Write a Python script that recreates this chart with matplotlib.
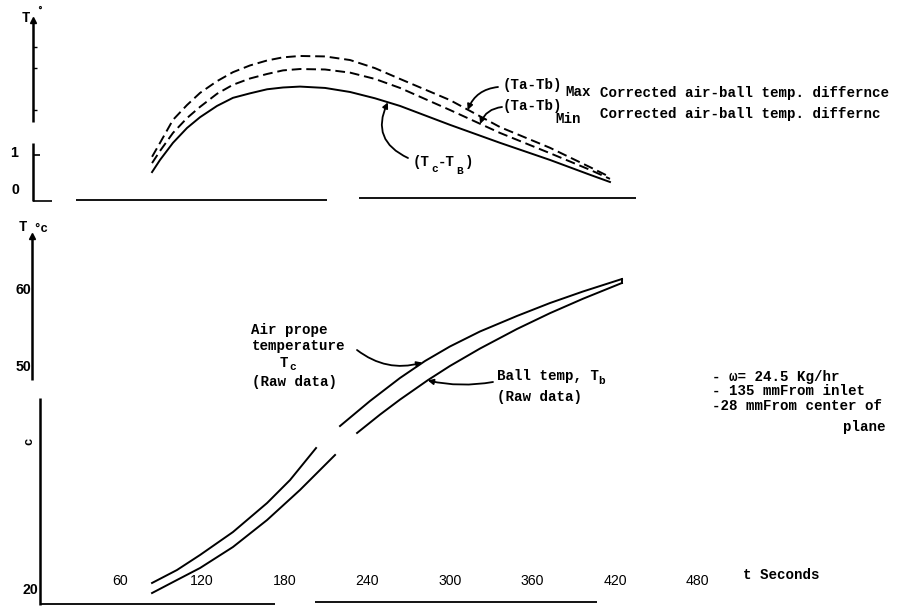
import matplotlib
matplotlib.use("Agg")
import matplotlib.pyplot as plt
from matplotlib.lines import Line2D

# ---------------- data ----------------
# upper panel: corrected / raw air-ball temperature difference (deg C) vs time (s)
time_diff = [83.6, 89.4, 98.8, 109.0, 118.5, 130.8, 142.4, 154.8, 167.2, 178.8,
             191.1, 209.3, 227.5, 245.6, 263.8, 300.1, 336.5, 372.8, 401.9, 416.4]
diff_raw = [0.62, 0.89, 1.27, 1.60, 1.84, 2.09, 2.27, 2.37, 2.46, 2.50,
            2.52, 2.49, 2.40, 2.26, 2.09, 1.67, 1.27, 0.89, 0.56, 0.40]
diff_min = [0.82, 1.09, 1.49, 1.82, 2.07, 2.36, 2.56, 2.70, 2.80, 2.88,
            2.91, 2.90, 2.83, 2.69, 2.49, 2.00, 1.49, 1.04, 0.67, 0.47]
diff_max = [0.96, 1.27, 1.78, 2.11, 2.38, 2.64, 2.84, 2.99, 3.10, 3.17,
            3.20, 3.19, 3.11, 2.93, 2.69, 2.22, 1.62, 1.16, 0.73, 0.51]

# lower panel: raw air-probe and ball temperatures (deg C) vs time (s)
time_air = [83.6, 101.7, 118.5, 142.4, 167.2, 183.9, 202.8,
            220.2, 242.0, 263.8, 282.0, 300.1, 321.9, 348.8, 372.8, 396.8, 425.1]
temp_air = [22.44, 24.10, 26.03, 28.97, 32.69, 35.64, 39.74,
            42.56, 45.77, 48.72, 50.90, 52.76, 54.68, 56.67, 58.33, 59.81, 61.41]
time_ball = [83.6, 101.7, 118.5, 142.4, 167.2, 191.1, 216.6,
             232.6, 249.3, 263.8, 284.2, 300.1, 321.9, 348.8, 372.8, 396.8, 425.1]
temp_ball = [21.15, 22.82, 24.36, 27.05, 30.51, 34.36, 38.85,
             41.67, 44.03, 45.95, 48.46, 50.26, 52.49, 55.00, 57.03, 58.88, 60.90]

time_ticks = [60, 120, 180, 240, 300, 360, 420, 480]

# ---------------- figure ----------------
W, H = 897, 606
fig = plt.figure(figsize=(W / 100, H / 100), dpi=100)
fig.patch.set_facecolor("white")

MONO = "Liberation Mono"
SANS = "Liberation Sans"
FS = 10.2

# both panels share the full canvas, each with its own vertical scale
ax_top = fig.add_axes([0, 0, 1, 1])
ax_bot = fig.add_axes([0, 0, 1, 1])
for a in (ax_top, ax_bot):
    a.set_xlim(-26.9, 625.0)
    a.set_axis_off()
    a.patch.set_alpha(0)
ax_top.set_ylim(-9.022, 4.444)
ax_bot.set_ylim(19.487, 97.18)


def fx(x):
    return x / W


def fy(y):
    return 1 - y / H


def seg(x0, y0, x1, y1, lw=1.5):
    fig.add_artist(Line2D([fx(x0), fx(x1)], [fy(y0), fy(y1)],
                          transform=fig.transFigure, color="black", lw=lw,
                          solid_capstyle="butt"))


def txt(x, y, s, size=FS, family=MONO, weight="bold", ha="left", **kw):
    fig.text(fx(x), fy(y), s, fontsize=size, family=family, weight=weight,
             ha=ha, va="center", color="black", **kw)


def up_arrow(x, y):
    fig.add_artist(Line2D([fx(x)], [fy(y)], transform=fig.transFigure,
                          marker="^", markersize=5, color="black", lw=0))


# ---------- upper panel curves ----------
ax_top.plot(time_diff, diff_raw, color="black", lw=1.4)
ax_top.plot(time_diff, diff_min, color="black", lw=1.4, dashes=(5, 2.5))
ax_top.plot(time_diff, diff_max, color="black", lw=1.4, dashes=(5, 2.5))

# ---------- lower panel curves (each drawn in two pieces) ----------
cut = 7
ax_bot.plot(time_air[:cut], temp_air[:cut], color="black", lw=1.4)
ax_bot.plot(time_air[cut:], temp_air[cut:], color="black", lw=1.4)
ax_bot.plot(time_ball[:cut], temp_ball[:cut], color="black", lw=1.4)
ax_bot.plot(time_ball[cut:], temp_ball[cut:], color="black", lw=1.4)
ax_bot.plot([time_air[-1], time_ball[-1]], [temp_air[-1], temp_ball[-1]],
            color="black", lw=1.4)

# ---------- upper panel frame ----------
seg(33, 20, 33, 122, lw=1.8)
up_arrow(33, 20)
seg(33, 143, 33, 201, lw=1.8)
seg(33, 201, 52, 201, lw=1.2)
seg(33, 155, 40, 155, lw=1.2)
for ty in (47, 68, 110):
    seg(33, ty, 37, ty, lw=1.0)
seg(76, 200, 327, 200, lw=1.3)
seg(359, 198, 636, 198, lw=1.3)
txt(22, 18, "T")
txt(37, 11, "°", size=7, family="DejaVu Sans")
txt(18, 153, "1", family=SANS, ha="right")
txt(19, 190, "0", family=SANS, ha="right")

# ---------- lower panel frame ----------
seg(32, 236, 32, 380, lw=1.8)
up_arrow(32, 236)
seg(40, 398, 40, 605, lw=1.8)
seg(40, 604, 275, 604, lw=1.3)
seg(315, 602, 597, 602, lw=1.3)
txt(19, 227, "T")
txt(33, 229, "°c", size=9)
txt(31, 290, "60", family=SANS, ha="right")
txt(31, 367, "50", family=SANS, ha="right")
txt(38, 590, "20", family=SANS, ha="right")
txt(29, 441, "c", size=9, rotation=90, ha="center")

for t in time_ticks:
    x_pix = ax_bot.transData.transform((t, 30))[0]
    txt(x_pix, 581, str(t), family=SANS, weight="normal", ha="center")
txt(743, 575, "t Seconds")

# ---------- upper panel annotations ----------
txt(503, 85, "(Ta-Tb)")
txt(565, 92, "Max")
txt(600, 93, "Corrected air-ball temp. differnce")
txt(503, 106, "(Ta-Tb)")
txt(555, 119, "Min")
txt(600, 114, "Corrected air-ball temp. differnc")

txt(413, 162, "(T")
txt(431, 169, "c", size=8)
txt(438, 162, "-T")
txt(456, 171, "B", size=8)
txt(465, 162, ")")

arrow_kw = dict(arrowstyle="-|>", color="black", lw=1.3, mutation_scale=8,
                shrinkA=0, shrinkB=0)
ax_top.annotate("", xy=(313, 2.0), xytext=(498, H - 87),
                textcoords="figure pixels",
                arrowprops=dict(connectionstyle="arc3,rad=0.3", **arrow_kw))
ax_top.annotate("", xy=(322, 1.69), xytext=(502, H - 107),
                textcoords="figure pixels",
                arrowprops=dict(connectionstyle="arc3,rad=0.3", **arrow_kw))
ax_top.annotate("", xy=(255, 2.17), xytext=(408, H - 158),
                textcoords="figure pixels",
                arrowprops=dict(connectionstyle="arc3,rad=-0.5", **arrow_kw))

# ---------- lower panel annotations ----------
txt(251, 330, "Air prope")
txt(252, 346, "temperature")
txt(280, 363, "T")
txt(289, 367, "c", size=8)
txt(252, 382, "(Raw data)")
ax_bot.annotate("", xy=(280, 50.7), xytext=(357, H - 350),
                textcoords="figure pixels",
                arrowprops=dict(connectionstyle="arc3,rad=0.25", **arrow_kw))

txt(497, 376, "Ball temp, T")
txt(598, 381, "b", size=8)
txt(497, 397, "(Raw data)")
ax_bot.annotate("", xy=(284, 48.4), xytext=(493, H - 382),
                textcoords="figure pixels",
                arrowprops=dict(connectionstyle="arc3,rad=-0.1", **arrow_kw))

txt(712, 377, "- ω= 24.5 Kg/hr")
txt(712, 391, "- 135 mmFrom inlet")
txt(712, 406, "-28 mmFrom center of")
txt(885, 427, "plane", ha="right")

fig.savefig("out.png", dpi=100, facecolor="white")
